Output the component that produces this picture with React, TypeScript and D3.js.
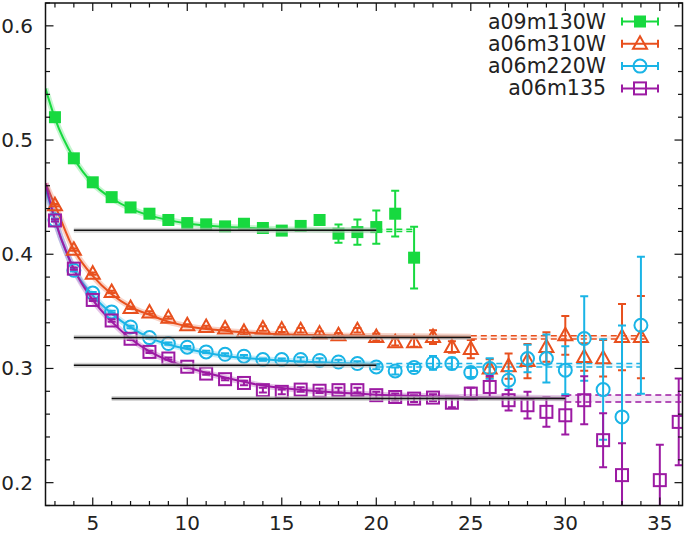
import React from 'react';
import * as d3 from 'd3';

// Canvas
const W = 685;
const H = 535;
const margin = { top: 3, right: 2.5, bottom: 29.5, left: 45.5 };

// a09m130W
const tGreen = [3, 4, 5, 6, 7, 8, 9, 10, 11, 12, 13, 14, 15, 16, 17, 18, 19, 20, 21, 22];
const yGreen = [0.520, 0.484, 0.463, 0.450, 0.441, 0.4355, 0.430, 0.4273, 0.4262, 0.4244, 0.4267, 0.423, 0.4207, 0.4248, 0.430, 0.418, 0.4194, 0.4238, 0.4355, 0.397];
const eGreen = [0.001, 0.001, 0.001, 0.001, 0.001, 0.001, 0.001, 0.001, 0.0015, 0.0015, 0.002, 0.002, 0.002, 0.003, 0.004, 0.008, 0.011, 0.0146, 0.020, 0.027];
const fitGreen = [[2.5, 0.545], [3, 0.519], [4, 0.484], [5, 0.462], [6, 0.449], [7, 0.440], [8, 0.434], [10, 0.427], [12, 0.424], [15, 0.422], [20, 0.421]];

// a06m310W
const tOrange = [3, 4, 5, 6, 7, 8, 9, 10, 11, 12, 13, 14, 15, 16, 17, 18, 19, 20, 21, 22, 23, 24, 25, 26, 27, 28, 29, 30, 31, 32, 33, 34];
const yOrange = [0.443, 0.404, 0.383, 0.367, 0.353, 0.349, 0.3445, 0.3378, 0.3363, 0.335, 0.332, 0.335, 0.334, 0.3334, 0.3305, 0.329, 0.3334, 0.3275, 0.323, 0.323, 0.3275, 0.3188, 0.317, 0.300, 0.302, 0.3065, 0.3188, 0.329, 0.310, 0.309, 0.3275, 0.3275];
const eOrange = [0.001, 0.001, 0.001, 0.001, 0.001, 0.001, 0.001, 0.001, 0.001, 0.001, 0.002, 0.002, 0.002, 0.002, 0.002, 0.002, 0.002, 0.003, 0.003, 0.004, 0.006, 0.005, 0.008, 0.008, 0.011, 0.015, 0.013, 0.017, 0.012, 0.016, 0.029, 0.036];
const fitOrange = [[2.5, 0.462], [3, 0.443], [4, 0.404], [5, 0.381], [6, 0.365], [7, 0.354], [8, 0.347], [9, 0.341], [10, 0.337], [12, 0.333], [15, 0.330], [20, 0.3285], [25, 0.3278]];

// a06m220W
const tCyan = [3, 4, 5, 6, 7, 8, 9, 10, 11, 12, 13, 14, 15, 16, 17, 18, 19, 20, 21, 22, 23, 24, 25, 26, 27, 28, 29, 30, 31, 32, 33, 34];
const yCyan = [0.430, 0.386, 0.366, 0.3495, 0.3363, 0.327, 0.3218, 0.3186, 0.3145, 0.3124, 0.3107, 0.3078, 0.3078, 0.3078, 0.307, 0.3057, 0.3043, 0.3013, 0.2978, 0.3008, 0.3048, 0.3043, 0.2965, 0.300, 0.2897, 0.3087, 0.3087, 0.2985, 0.3262, 0.2815, 0.2576, 0.3378];
const eCyan = [0.001, 0.001, 0.001, 0.001, 0.001, 0.001, 0.001, 0.001, 0.001, 0.001, 0.001, 0.001, 0.001, 0.002, 0.002, 0.002, 0.002, 0.002, 0.003, 0.003, 0.006, 0.005, 0.004, 0.009, 0.008, 0.012, 0.021, 0.021, 0.037, 0.044, 0.08, 0.06];
const fitCyan = [[2.5, 0.458], [3, 0.430], [4, 0.387], [5, 0.364], [6, 0.348], [7, 0.336], [8, 0.327], [9, 0.321], [10, 0.317], [12, 0.311], [15, 0.307], [20, 0.304]];

// a06m135
const tPurple = [3, 4, 5, 6, 7, 8, 9, 10, 11, 12, 13, 14, 15, 16, 17, 18, 19, 20, 21, 22, 23, 24, 25, 26, 27, 28, 29, 30, 31, 32, 33, 35, 36];
const yPurple = [0.4296, 0.3874, 0.360, 0.342, 0.326, 0.3145, 0.3087, 0.3015, 0.2955, 0.2906, 0.2873, 0.281, 0.2795, 0.2815, 0.2805, 0.281, 0.281, 0.2766, 0.275, 0.2736, 0.2745, 0.270, 0.278, 0.2838, 0.2722, 0.2678, 0.262, 0.259, 0.2722, 0.2372, 0.2066, 0.2022, 0.2532];
const ePurple = [0.001, 0.001, 0.001, 0.001, 0.001, 0.001, 0.001, 0.001, 0.001, 0.001, 0.002, 0.002, 0.002, 0.002, 0.002, 0.002, 0.002, 0.003, 0.003, 0.003, 0.003, 0.004, 0.005, 0.0095, 0.009, 0.0117, 0.013, 0.0168, 0.021, 0.0236, 0.028, 0.031, 0.038];
const fitPurple = [[2.5, 0.462], [3, 0.430], [4, 0.387], [5, 0.360], [6, 0.341], [7, 0.326], [8, 0.315], [9, 0.307], [10, 0.301], [12, 0.292], [14, 0.285], [17, 0.280], [20, 0.277], [25, 0.275], [30, 0.274]];

const xTicks = [5, 10, 15, 20, 25, 30, 35];
const yTicks = [0.2, 0.3, 0.4, 0.5, 0.6];

const series = [
  { name: 'a09m130W', color: '#17d93f', marker: 'fsquare', t: tGreen, y: yGreen, e: eGreen, fit: fitGreen, plateau: 0.421, pErr: 0.001, tmin: 4, tmax: 20, tEnd: 22 },
  { name: 'a06m310W', color: '#e8501e', marker: 'triangle', t: tOrange, y: yOrange, e: eOrange, fit: fitOrange, plateau: 0.3272, pErr: 0.0015, tmin: 4, tmax: 25, tEnd: 34.2 },
  { name: 'a06m220W', color: '#1ab4e6', marker: 'circle', t: tCyan, y: yCyan, e: eCyan, fit: fitCyan, plateau: 0.3028, pErr: 0.0015, tmin: 4, tmax: 20, tEnd: 34 },
  { name: 'a06m135', color: '#9c1aa3', marker: 'square', t: tPurple, y: yPurple, e: ePurple, fit: fitPurple, plateau: 0.2737, pErr: 0.003, tmin: 6, tmax: 30, tEnd: 36.2 },
];

function Marker({ type, cx, cy, color }) {
  if (type === 'fsquare') {
    return <rect x={cx - 6} y={cy - 6} width={12} height={12} fill={color} />;
  }
  if (type === 'triangle') {
    return <path d={`M${cx},${cy - 7.5}L${cx + 7},${cy + 5}L${cx - 7},${cy + 5}Z`} fill="none" stroke={color} strokeWidth={2} />;
  }
  if (type === 'circle') {
    return <circle cx={cx} cy={cy} r={6.5} fill="none" stroke={color} strokeWidth={2} />;
  }
  return <rect x={cx - 6} y={cy - 6} width={12} height={12} fill="none" stroke={color} strokeWidth={2} />;
}

export default function App() {
  const x = d3.scaleLinear().domain([2.5, 36.2]).range([margin.left, W - margin.right]);
  const y = d3.scaleLinear().domain([0.18, 0.62]).range([H - margin.bottom, margin.top]);
  const x0 = margin.left, x1 = W - margin.right, y0 = H - margin.bottom, y1 = margin.top;

  const fitLine = d3.line<number[]>()
    .x(d => x(d[0]))
    .y(d => y(d[1]))
    .curve(d3.curveMonotoneX);

  // minor ticks every 1 on x, every 0.02 on y
  const minorX = d3.range(3, 37, 1).filter(v => v % 5 !== 0);
  const minorY = d3.range(0.18, 0.621, 0.02).filter(v => Math.abs(Math.round(v * 10) - v * 10) > 0.01);

  const font = 'DejaVu Sans, sans-serif';

  return (
    <svg width={W} height={H} style={{ position: 'absolute', left: 0, top: 0 }}>
      <defs>
        <clipPath id="plot">
          <rect x={x0} y={y1} width={x1 - x0} height={y0 - y1} />
        </clipPath>
      </defs>
      <rect width={W} height={H} fill="#fff" />

      <g clipPath="url(#plot)">
        {/* fit curves + extrapolated bands */}
        {series.map(s => (
          <g key={s.name + 'fit'}>
            <path d={fitLine(s.fit)} fill="none" stroke={s.color} strokeOpacity={0.25} strokeWidth={6} />
            <path d={fitLine(s.fit)} fill="none" stroke={s.color} strokeWidth={2} />
            <rect x={x(s.tmax)} y={y(s.plateau + s.pErr)} width={x(s.tEnd) - x(s.tmax)} height={y(s.plateau - s.pErr) - y(s.plateau + s.pErr)} fill={s.color} fillOpacity={0.1} />
            <line x1={x(s.tmax)} x2={x(s.tEnd)} y1={y(s.plateau + s.pErr)} y2={y(s.plateau + s.pErr)} stroke={s.color} strokeWidth={1.5} strokeDasharray="6,4" />
            <line x1={x(s.tmax)} x2={x(s.tEnd)} y1={y(s.plateau - s.pErr)} y2={y(s.plateau - s.pErr)} stroke={s.color} strokeWidth={1.5} strokeDasharray="6,4" />
          </g>
        ))}

        {/* data points with error bars */}
        {series.map(s => (
          <g key={s.name + 'pts'}>
            {s.t.map((t, i) => {
              const cx = x(t), cy = y(s.y[i]);
              const ya = y(s.y[i] + s.e[i]), yb = y(s.y[i] - s.e[i]);
              return (
                <g key={t}>
                  <line x1={cx} x2={cx} y1={ya} y2={yb} stroke={s.color} strokeWidth={2} />
                  <line x1={cx - 4} x2={cx + 4} y1={ya} y2={ya} stroke={s.color} strokeWidth={2} />
                  <line x1={cx - 4} x2={cx + 4} y1={yb} y2={yb} stroke={s.color} strokeWidth={2} />
                  <Marker type={s.marker} cx={cx} cy={cy} color={s.color} />
                </g>
              );
            })}
          </g>
        ))}

        {/* plateau fits */}
        {series.map(s => (
          <g key={s.name + 'plat'}>
            <rect x={x(s.tmin)} y={y(s.plateau) - 2.5} width={x(s.tmax) - x(s.tmin)} height={5} fill="#bbb" fillOpacity={0.6} />
            <line x1={x(s.tmin)} x2={x(s.tmax)} y1={y(s.plateau)} y2={y(s.plateau)} stroke="#111" strokeWidth={1.5} />
          </g>
        ))}
      </g>

      {/* frame and ticks */}
      <rect x={x0} y={y1} width={x1 - x0} height={y0 - y1} fill="none" stroke="#111" strokeWidth={1.5} />
      {xTicks.map(v => (
        <g key={'xt' + v}>
          <line x1={x(v)} x2={x(v)} y1={y0} y2={y0 - 8} stroke="#111" strokeWidth={1.2} />
          <line x1={x(v)} x2={x(v)} y1={y1} y2={y1 + 8} stroke="#111" strokeWidth={1.2} />
          <text x={x(v)} y={530} textAnchor="middle" fontFamily={font} fontSize={20} fill="#222">{v}</text>
        </g>
      ))}
      {minorX.map(v => (
        <g key={'xm' + v}>
          <line x1={x(v)} x2={x(v)} y1={y0} y2={y0 - 4.5} stroke="#111" strokeWidth={1.2} />
          <line x1={x(v)} x2={x(v)} y1={y1} y2={y1 + 4.5} stroke="#111" strokeWidth={1.2} />
        </g>
      ))}
      {yTicks.map(v => (
        <g key={'yt' + v}>
          <line x1={x0} x2={x0 + 8} y1={y(v)} y2={y(v)} stroke="#111" strokeWidth={1.2} />
          <line x1={x1} x2={x1 - 8} y1={y(v)} y2={y(v)} stroke="#111" strokeWidth={1.2} />
          <text x={33} y={y(v) + 7} textAnchor="end" fontFamily={font} fontSize={20} fill="#222">{v.toFixed(1)}</text>
        </g>
      ))}
      {minorY.map(v => (
        <g key={'ym' + v.toFixed(2)}>
          <line x1={x0} x2={x0 + 4.5} y1={y(v)} y2={y(v)} stroke="#111" strokeWidth={1.2} />
          <line x1={x1} x2={x1 - 4.5} y1={y(v)} y2={y(v)} stroke="#111" strokeWidth={1.2} />
        </g>
      ))}

      {/* legend */}
      {series.map((s, i) => {
        const cy = 21.5 + i * 22.3;
        return (
          <g key={s.name + 'leg'}>
            <rect x={484} y={cy - 10} width={182} height={20} fill="#fff" />
            <text x={606} y={cy + 7} textAnchor="end" fontFamily={font} fontSize={20.5} fill="#222">{s.name}</text>
            <line x1={622} x2={658} y1={cy} y2={cy} stroke={s.color} strokeWidth={2} />
            <line x1={622} x2={622} y1={cy - 4} y2={cy + 4} stroke={s.color} strokeWidth={2} />
            <line x1={658} x2={658} y1={cy - 4} y2={cy + 4} stroke={s.color} strokeWidth={2} />
            <Marker type={s.marker} cx={640} cy={cy} color={s.color} />
          </g>
        );
      })}
    </svg>
  );
}
